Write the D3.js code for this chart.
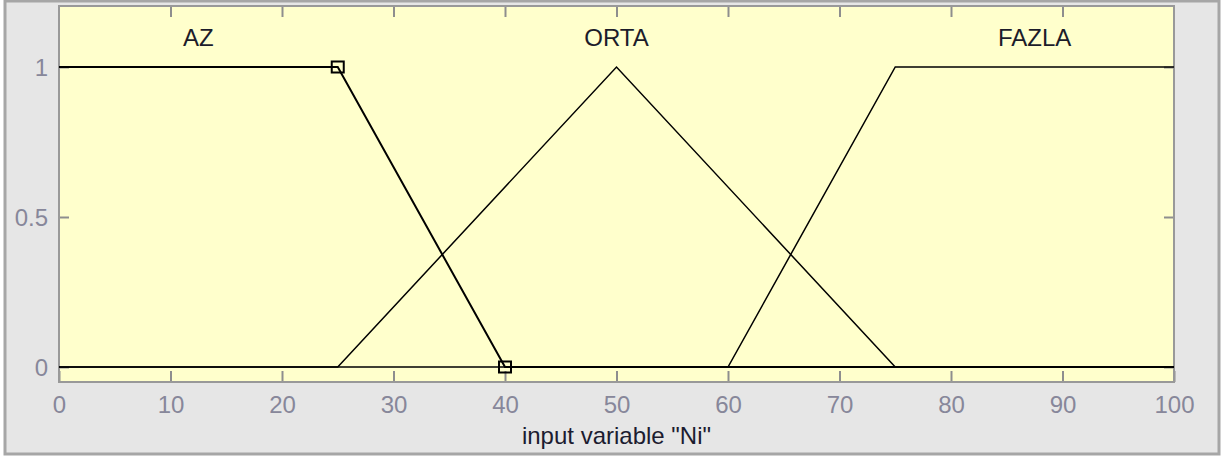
<!DOCTYPE html>
<html><head><meta charset="utf-8">
<script src="https://cdn.jsdelivr.net/npm/d3@7"></script>
<style>
html,body{margin:0;padding:0;background:#fff;}
svg{display:block;}
</style></head>
<body>
<svg id="chart" width="1226" height="457"></svg>
<script>
// ---- data ----
const mfNames = ["AZ", "ORTA", "FAZLA"];
const azX = [0, 25, 40, 100];
const azY = [1, 1, 0, 0];
const ortaX = [0, 25, 50, 75, 100];
const ortaY = [0, 0, 1, 0, 0];
const fazlaX = [0, 60, 75, 100];
const fazlaY = [0, 0, 1, 1];
const labelX = [12.5, 50, 87.5];
const labelY = 1.1;
const markerX = [25, 40];
const markerY = [1, 0];
const xTicks = [0, 10, 20, 30, 40, 50, 60, 70, 80, 90, 100];
const yTicks = [0, 0.5, 1];
const xTitle = 'input variable "Ni"';

const svg = d3.select("#chart");
const L = 59, R = 1174, T = 7, B = 382;
const x = d3.scaleLinear().domain([0, 100]).range([L, R]);
const y = d3.scaleLinear().domain([-0.05, 1.2]).range([B, T]);

// outer panel
svg.append("rect").attr("x", 5).attr("y", 1).attr("width", 1214).attr("height", 453)
  .attr("fill", "#e6e6e6").attr("stroke", "#a6a6a6").attr("stroke-width", 3);

// plot area
svg.append("rect").attr("x", L).attr("y", T - 1).attr("width", R - L).attr("height", B - T + 1)
  .attr("fill", "#ffffcc");

const tickCol = "#8e8e8e";
const labCol = "#87879a";
const font = "Liberation Sans, Arial, sans-serif";
// axes
const gxB = svg.append("g").attr("transform", `translate(0,${B})`)
  .call(d3.axisBottom(x).tickValues(xTicks).tickFormat(d3.format("d")).tickSizeInner(-11).tickSizeOuter(0).tickPadding(14));
const gxT = svg.append("g").attr("transform", `translate(0,${T - 1})`)
  .call(d3.axisTop(x).tickValues(xTicks.slice(1, -1)).tickFormat("").tickSizeInner(-11).tickSizeOuter(0));
const gyL = svg.append("g").attr("transform", `translate(${L},0)`)
  .call(d3.axisLeft(y).tickValues(yTicks).tickFormat(d => d === 0.5 ? "0.5" : d3.format("d")(d)).tickSizeInner(-10).tickSizeOuter(0).tickPadding(11));
const gyR = svg.append("g").attr("transform", `translate(${R},0)`)
  .call(d3.axisRight(y).tickValues(yTicks).tickFormat("").tickSizeInner(-10).tickSizeOuter(0));
[gxB, gxT, gyL, gyR].forEach(g => {
  g.select(".domain").remove();
  g.selectAll(".tick line").attr("stroke", tickCol).attr("stroke-width", 2);
  g.selectAll(".tick text").attr("fill", labCol).attr("font-family", font).attr("font-size", 24);
});
gxB.selectAll(".tick text").attr("dy", "0.71em");
gyL.selectAll(".tick text").attr("dy", "0.36em");

// plot border
svg.append("rect").attr("x", L).attr("y", T - 1).attr("width", R - L).attr("height", B - T + 1)
  .attr("fill", "none").attr("stroke", "#999999").attr("stroke-width", 2);

// membership functions
const line = d3.line().x(d => x(d[0])).y(d => y(d[1]));
const series = [[azX, azY], [ortaX, ortaY], [fazlaX, fazlaY]];
series.forEach(([xs, ys], i) => {
  svg.append("path").datum(xs.map((v, k) => [v, ys[k]]))
    .attr("d", line).attr("fill", "none").attr("stroke", "#000")
    .attr("stroke-width", i === 0 ? 2 : 1.5);
});

// markers for selected MF
markerX.forEach((mx, i) => {
  svg.append("rect").attr("x", x(mx) - 6).attr("y", y(markerY[i]) - 5.5)
    .attr("width", 12).attr("height", 11)
    .attr("fill", "none").attr("stroke", "#000").attr("stroke-width", 2);
});

// MF labels
mfNames.forEach((n, i) => {
  svg.append("text").attr("x", x(labelX[i])).attr("y", y(labelY))
    .attr("dy", "0.36em").attr("text-anchor", "middle")
    .attr("font-family", font).attr("font-size", 24)
    .attr("fill", "#1c1c2a").text(n);
});

// axis title
svg.append("text").attr("x", (L + R) / 2).attr("y", 444).attr("text-anchor", "middle")
  .attr("font-family", font).attr("font-size", 24)
  .attr("fill", "#1c1c30").text(xTitle);
</script>
</body></html>
